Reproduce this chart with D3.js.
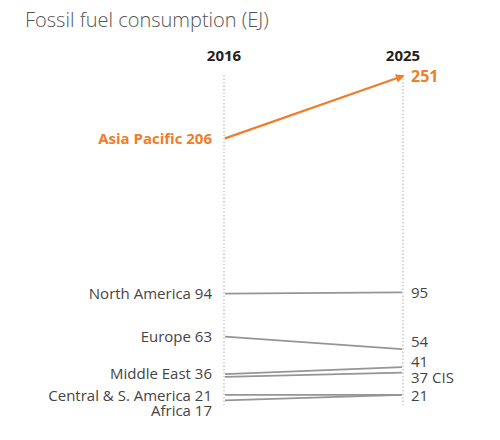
<!DOCTYPE html>
<html><head><meta charset="utf-8">
<script src="https://cdn.jsdelivr.net/npm/d3@7"></script>
<style>body{margin:0;background:#fff;font-family:"Open Sans",sans-serif;}</style>
</head><body><svg id="c" width="500" height="440"></svg>
<script>
const years = ["2016", "2025"];
const regions = ["Asia Pacific", "North America", "Europe", "Middle East", "CIS", "Central & S. America", "Africa"];
const values2016 = [206, 94, 63, 36, 34, 21, 17];
const values2025 = [251, 95, 54, 41, 37, 21, 21];
const leftLabels = ["Asia Pacific 206", "North America 94", "Europe 63", "Middle East 36", "", "Central & S. America 21", "Africa 17"];
const rightLabels = ["251", "95", "54", "41", "37 CIS", "", "21"];
const leftLabelPos = [206, 94, 63, 36, null, 20.5, 9.5];
const rightLabelPos = [251, 95, 59.5, 45, 33.5, null, 20.5];

const svg = d3.select("#c");
const x = d3.scalePoint().domain(years).range([224, 403]);
const y = d3.scaleLinear().domain([0, 251]).range([424, 76]);
const orange = "#f07d2a", gray = "#959595";

svg.append("text").attr("x", 25).attr("y", 27).attr("font-size", 20).attr("fill", "#555")
  .attr("font-weight", 300).text("Fossil fuel consumption (EJ)");

svg.append("defs").append("marker").attr("id", "arr").attr("viewBox", "0 0 10 10")
  .attr("refX", 8).attr("refY", 5).attr("markerWidth", 4).attr("markerHeight", 4).attr("orient", "auto")
  .append("path").attr("d", "M0,0L10,5L0,10z").attr("fill", orange);

years.forEach(yr => {
  svg.append("line").attr("x1", x(yr)).attr("x2", x(yr)).attr("y1", 75).attr("y2", 405)
    .attr("stroke", "#bbb").attr("stroke-width", 1.2).attr("stroke-dasharray", "1.5,2");
  svg.append("text").attr("x", x(yr)).attr("y", 61).attr("text-anchor", "middle")
    .attr("font-size", 15).attr("font-weight", 700).attr("fill", "#222").text(yr);
});

regions.forEach((r, i) => {
  const isAP = i === 0;
  svg.append("line")
    .attr("x1", x(years[0]) + 1).attr("y1", y(values2016[i]))
    .attr("x2", x(years[1]) - (isAP ? 0 : 1)).attr("y2", y(values2025[i]))
    .attr("stroke", isAP ? orange : gray).attr("stroke-width", isAP ? 2.2 : 1.8)
    .attr("marker-end", isAP ? "url(#arr)" : null);
  if (leftLabels[i]) svg.append("text").attr("x", 212).attr("y", y(leftLabelPos[i]))
    .attr("dy", "0.35em").attr("text-anchor", "end").attr("font-size", isAP ? 15 : 15)
    .attr("font-weight", isAP ? 700 : 400).attr("fill", isAP ? orange : "#444").text(leftLabels[i]);
  if (rightLabels[i]) svg.append("text").attr("x", 411).attr("y", y(rightLabelPos[i]))
    .attr("dy", "0.35em").attr("font-size", isAP ? 16 : 15)
    .attr("font-weight", isAP ? 700 : 400).attr("fill", isAP ? orange : "#444").text(rightLabels[i]);
});
</script></body></html>
